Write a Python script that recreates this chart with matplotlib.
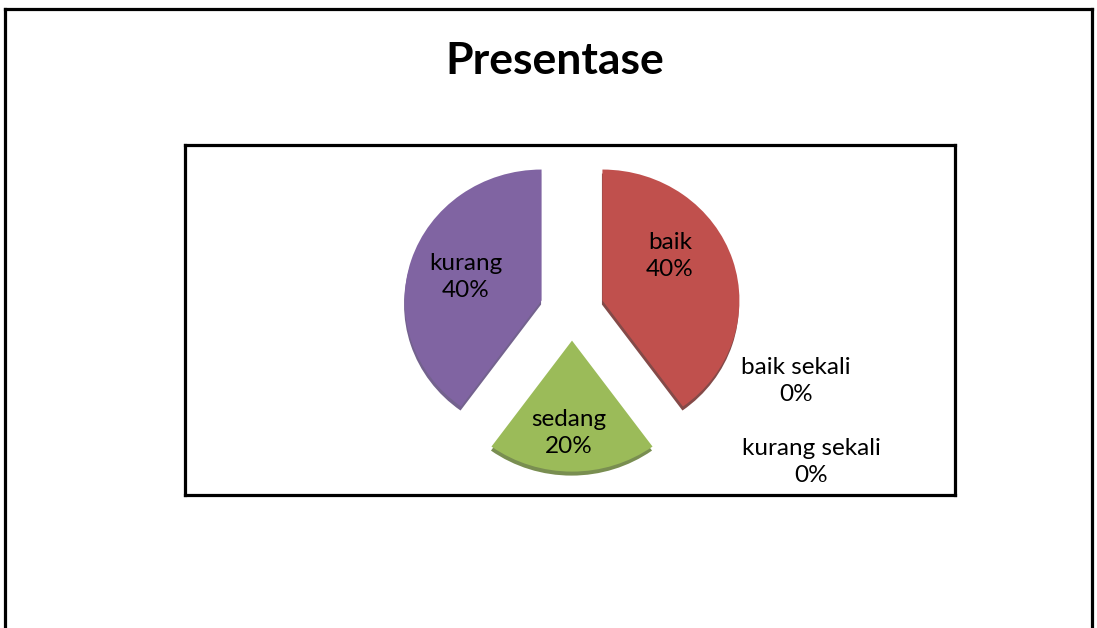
import matplotlib.pyplot as plt
from matplotlib.lines import Line2D
import numpy as np

# chart data
categories = ['baik sekali', 'baik', 'sedang', 'kurang', 'kurang sekali']
values = [0, 40, 20, 40, 0]
colors = ['#4F81BD', '#C0504D', '#9BBB59', '#8064A2', '#4BACC6']
side_colors = ['#2F4D71', '#6E2A28', '#627A33', '#5B467A', '#2C6A7A']
title = 'Presentase'

W, H = 1097, 628
plt.rcParams['font.family'] = ['Lato', 'DejaVu Sans']

fig = plt.figure(figsize=(W / 100, H / 100), dpi=100)
fig.patch.set_facecolor('white')

# outer frame (open at the bottom)
lw_px = 3.2
lw = lw_px * 72 / 100
frame = [([5, 5], [H, 9]), ([5, 1092], [9, 9]), ([1092, 1092], [9, H])]
for xs, ys in frame:
    fig.add_artist(Line2D([x / W for x in xs], [1 - y / H for y in ys],
                          color='black', lw=lw, transform=fig.transFigure,
                          solid_capstyle='projecting'))

fig.text(555 / W, 1 - 61 / H, title, ha='center', va='center',
         fontsize=32, fontweight='bold', color='black')

# inner chart box; x data = pixels, y data stretched to flatten the pie
x0, y0, x1, y1 = 185, 145, 955, 495
tilt = 137 / 131
ax = fig.add_axes([x0 / W, 1 - y1 / H, (x1 - x0) / W, (y1 - y0) / H])


def to_data(px, py):
    return px, (y1 - py) * tilt


radius = 137
explode = [0, 32, 32, 32, 0]

# thin darker "side" under each slice for the 3-D look
side, _ = ax.pie(values, colors=side_colors, startangle=90, counterclock=False,
                 explode=explode, center=to_data(571.5, 314), radius=radius,
                 wedgeprops=dict(linewidth=0))
wedges, _ = ax.pie(values, colors=colors, startangle=90, counterclock=False,
                   explode=explode, center=to_data(572, 310), radius=radius,
                   wedgeprops=dict(linewidth=0))
for w in side:
    w.set_alpha(0.85)

ax.set_aspect('auto')
ax.set_xlim(x0, x1)
ax.set_ylim(0, (y1 - y0) * tilt)
ax.set_xticks([])
ax.set_yticks([])
ax.set_frame_on(True)
for s in ax.spines.values():
    s.set_linewidth(lw)
    s.set_color('black')

total = sum(values)
label_xy = [(796, 381), (670, 256), (569, 433), (466, 277), (811, 462)]
for cat, v, (lx, ly) in zip(categories, values, label_xy):
    pct = 100 * v / total
    ax.text(*to_data(lx, ly), f'{cat}\n{pct:.0f}%', ha='center', va='center',
            multialignment='center', fontsize=17.5, linespacing=1.3,
            color='black')

fig.savefig('out.png', dpi=100)
